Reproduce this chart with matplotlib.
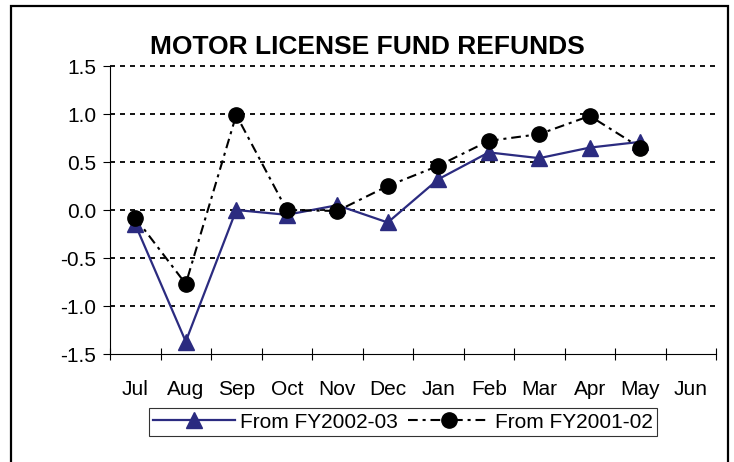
import numpy as np
import matplotlib
matplotlib.use("Agg")
import matplotlib.pyplot as plt
from matplotlib.patches import Rectangle

plt.rcParams['font.family'] = ['Liberation Sans', 'DejaVu Sans']
plt.rcParams['lines.scale_dashes'] = False

months = ["Jul", "Aug", "Sep", "Oct", "Nov", "Dec",
          "Jan", "Feb", "Mar", "Apr", "May", "Jun"]
# Jun has no data yet
fy2002_03 = [-0.15, -1.37, 0.00, -0.05, 0.05, -0.13, 0.32, 0.60, 0.54, 0.65, 0.71]
fy2001_02 = [-0.08, -0.77, 0.99, 0.00, -0.01, 0.25, 0.46, 0.72, 0.79, 0.98, 0.65]
y_ticks = [-1.5, -1.0, -0.5, 0.0, 0.5, 1.0, 1.5]

W, H = 734, 462
fig = plt.figure(figsize=(W / 100, H / 100), dpi=100)

# outer frame (open at the bottom like the source)
fig.patches.append(Rectangle((11 / W, -0.05), (728 - 11) / W, 1 - 6 / H + 0.05,
                             transform=fig.transFigure, fill=False,
                             edgecolor='black', linewidth=1.6))

ax = fig.add_axes([110 / W, 1 - 354 / H, (716 - 110) / W, (354 - 66) / H])

x = np.arange(len(fy2002_03))
blue = '#2B2B80'
ax.plot(x, fy2002_03, color=blue, linewidth=1.6, marker='^', markersize=11,
        label="From FY2002-03", zorder=3)
ax.plot(x, fy2001_02, color='black', linewidth=1.5, marker='o', markersize=11,
        dashes=(7.0, 3.5, 2.2, 3.5), label="From FY2001-02", zorder=4)

ax.set_xlim(-0.5, len(months) - 0.5)
ax.set_ylim(-1.5, 1.5)
ax.set_yticks(y_ticks)
ax.set_yticklabels([f"{v:.1f}" for v in y_ticks])
ax.set_xticks(np.arange(len(months)))
ax.set_xticklabels(months)
ax.set_xticks(np.arange(len(months) + 1) - 0.5, minor=True)
ax.tick_params(axis='x', which='major', length=0, pad=19, labelsize=15)
ax.tick_params(axis='x', which='minor', length=9, direction='inout', width=0.8)
ax.tick_params(axis='y', length=5, direction='out', width=0.8, labelsize=15, pad=5)

for v in y_ticks[1:]:
    ax.axhline(v, color='black', linewidth=1.3, dashes=(3.6, 3.6), zorder=1, clip_on=False)

ax.spines['top'].set_visible(False)
ax.spines['right'].set_visible(False)
ax.spines['left'].set_linewidth(0.8)
ax.spines['bottom'].set_linewidth(0.8)

fig.text(367 / W, 1 - 47 / H, "MOTOR LICENSE FUND REFUNDS", ha='center', va='center',
         fontsize=19, fontweight='bold')

leg = ax.legend(loc='center', bbox_to_anchor=((403 - 110) / (716 - 110), (354 - 422) / (354 - 66)),
                ncol=2, frameon=True, fontsize=15, handlelength=3.9, columnspacing=0.5,
                handletextpad=0.25, borderpad=0.2, borderaxespad=0, fancybox=False)
leg.get_frame().set_edgecolor('black')
leg.get_frame().set_linewidth(0.8)

fig.savefig("out.png", dpi=100)
